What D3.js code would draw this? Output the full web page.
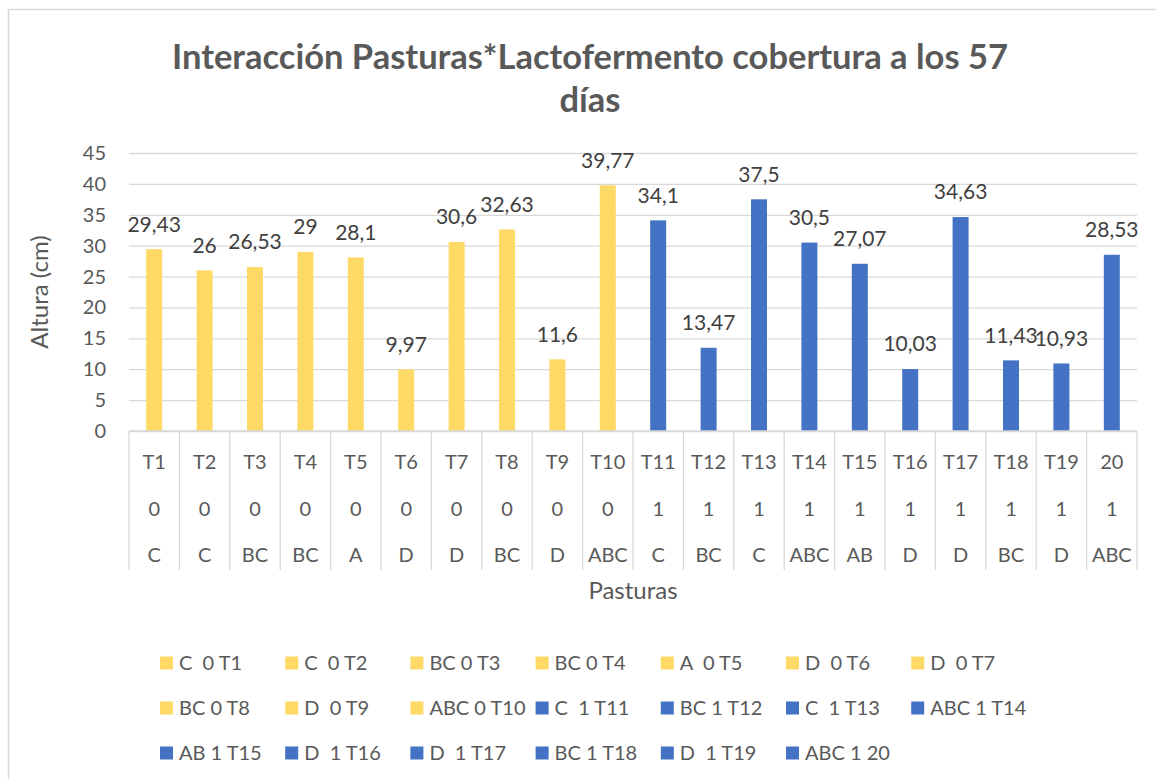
<!DOCTYPE html>
<html>
<head>
<meta charset="utf-8">
<script src="https://cdn.jsdelivr.net/npm/d3@7"></script>
<style>
  body { margin: 0; background: #fff; }
  text { font-family: Lato, "Open Sans", sans-serif; }
</style>
</head>
<body>
<div id="chart"></div>
<script>
// datos
var tratamientos = ["T1", "T2", "T3", "T4", "T5", "T6", "T7", "T8", "T9", "T10",
  "T11", "T12", "T13", "T14", "T15", "T16", "T17", "T18", "T19", "20"];
var lactofermento = [0, 0, 0, 0, 0, 0, 0, 0, 0, 0, 1, 1, 1, 1, 1, 1, 1, 1, 1, 1];
var letras = ["C", "C", "BC", "BC", "A", "D", "D", "BC", "D", "ABC",
  "C", "BC", "C", "ABC", "AB", "D", "D", "BC", "D", "ABC"];
var alturas = [29.43, 26, 26.53, 29, 28.1, 9.97, 30.6, 32.63, 11.6, 39.77,
  34.1, 13.47, 37.5, 30.5, 27.07, 10.03, 34.63, 11.43, 10.93, 28.53];
var yTicks = [0, 5, 10, 15, 20, 25, 30, 35, 40, 45];

var W = 1156, H = 779;
var plot = { left: 129, right: 1137, top: 153, bottom: 431 };
var colores = { 0: "#FFD966", 1: "#4472C4" };

var svg = d3.select("#chart").append("svg")
  .attr("width", W)
  .attr("height", H);

// borde del area del grafico
svg.append("path")
  .attr("d", "M8.5," + (H + 5) + "V9.5H" + (W + 5))
  .attr("fill", "none")
  .attr("stroke", "#d9d9d9")
  .attr("stroke-width", 1.5);

// titulo
var titulo = svg.append("text")
  .attr("x", 590)
  .attr("y", 57)
  .attr("text-anchor", "middle")
  .attr("fill", "#595959")
  .style("font-size", "34.5px")
  .style("font-weight", "bold");
titulo.append("tspan").attr("x", 590).attr("dy", "0.35em")
  .text("Interacción Pasturas*Lactofermento cobertura a los 57");
titulo.append("tspan").attr("x", 590).attr("dy", 43)
  .text("días");

var x = d3.scaleBand()
  .domain(tratamientos.map(function (d, i) { return i; }))
  .range([plot.left, plot.right])
  .padding(0);

var y = d3.scaleLinear()
  .domain([0, 45])
  .range([plot.bottom, plot.top]);

// lineas de cuadricula
svg.append("g")
  .attr("transform", "translate(" + plot.left + ",0)")
  .call(d3.axisLeft(y).tickValues(yTicks).tickSize(-(plot.right - plot.left)).tickFormat(""))
  .call(function (g) { g.select(".domain").remove(); })
  .selectAll("line")
  .attr("stroke", "#d9d9d9")
  .attr("stroke-width", 1.3);

// etiquetas eje y
svg.append("g")
  .selectAll("text")
  .data(yTicks)
  .enter()
  .append("text")
  .attr("x", 106)
  .attr("y", function (d) { return y(d); })
  .attr("dy", "0.35em")
  .attr("text-anchor", "end")
  .attr("fill", "#595959")
  .style("font-size", "20px")
  .text(function (d) { return d; });

// barras
svg.append("g")
  .selectAll("rect")
  .data(alturas)
  .enter()
  .append("rect")
  .attr("x", function (d, i) { return x(i) + x.bandwidth() / 2 - 8; })
  .attr("width", 16)
  .attr("y", function (d) { return y(d); })
  .attr("height", function (d) { return y(0) - y(d); })
  .attr("fill", function (d, i) { return colores[lactofermento[i]]; });

// etiquetas de datos
svg.append("g")
  .selectAll("text")
  .data(alturas)
  .enter()
  .append("text")
  .attr("x", function (d, i) { return x(i) + x.bandwidth() / 2; })
  .attr("y", function (d) { return y(d) - 25; })
  .attr("dy", "0.35em")
  .attr("text-anchor", "middle")
  .attr("fill", "#404040")
  .style("font-size", "21px")
  .text(function (d) { return String(d).replace(".", ","); });

// eje de categorias multinivel
var ejeX = svg.append("g");
ejeX.append("line")
  .attr("x1", plot.left).attr("x2", plot.right)
  .attr("y1", plot.bottom).attr("y2", plot.bottom)
  .attr("stroke", "#d9d9d9").attr("stroke-width", 1.3);
ejeX.selectAll("line.sep")
  .data(d3.range(tratamientos.length + 1))
  .enter()
  .append("line")
  .attr("class", "sep")
  .attr("x1", function (i) { return i < tratamientos.length ? x(i) : plot.right; })
  .attr("x2", function (i) { return i < tratamientos.length ? x(i) : plot.right; })
  .attr("y1", plot.bottom)
  .attr("y2", 570)
  .attr("stroke", "#d9d9d9")
  .attr("stroke-width", 1.3);

var filas = [
  { y: 462, vals: tratamientos },
  { y: 509, vals: lactofermento },
  { y: 555, vals: letras }
];
filas.forEach(function (f) {
  ejeX.append("g")
    .selectAll("text")
    .data(f.vals)
    .enter()
    .append("text")
    .attr("x", function (d, i) { return x(i) + x.bandwidth() / 2; })
    .attr("y", f.y)
    .attr("dy", "0.35em")
    .attr("text-anchor", "middle")
    .attr("fill", "#595959")
    .style("font-size", "20px")
    .text(function (d) { return d; });
});

// titulos de ejes
svg.append("text")
  .attr("x", (plot.left + plot.right) / 2)
  .attr("y", 591)
  .attr("dy", "0.35em")
  .attr("text-anchor", "middle")
  .attr("fill", "#595959")
  .style("font-size", "24px")
  .text("Pasturas");

svg.append("text")
  .attr("transform", "translate(40,292) rotate(-90)")
  .attr("dy", "0.35em")
  .attr("text-anchor", "middle")
  .attr("fill", "#595959")
  .style("font-size", "24px")
  .text("Altura (cm)");

// leyenda
var leyenda = svg.append("g")
  .selectAll("g")
  .data(tratamientos)
  .enter()
  .append("g")
  .attr("transform", function (d, i) {
    return "translate(" + (160 + (i % 7) * 125.2) + "," + (663 + Math.floor(i / 7) * 45) + ")";
  });
leyenda.append("rect")
  .attr("x", 0).attr("y", -6.5)
  .attr("width", 13).attr("height", 13)
  .attr("fill", function (d, i) { return colores[lactofermento[i]]; });
leyenda.append("text")
  .attr("x", 19)
  .attr("dy", "0.35em")
  .attr("fill", "#595959")
  .style("font-size", "20px")
  .style("white-space", "pre")
  .text(function (d, i) {
    var l = letras[i];
    return l + (l.length == 1 ? "  " : " ") + lactofermento[i] + " " + d;
  });
</script>
</body>
</html>
